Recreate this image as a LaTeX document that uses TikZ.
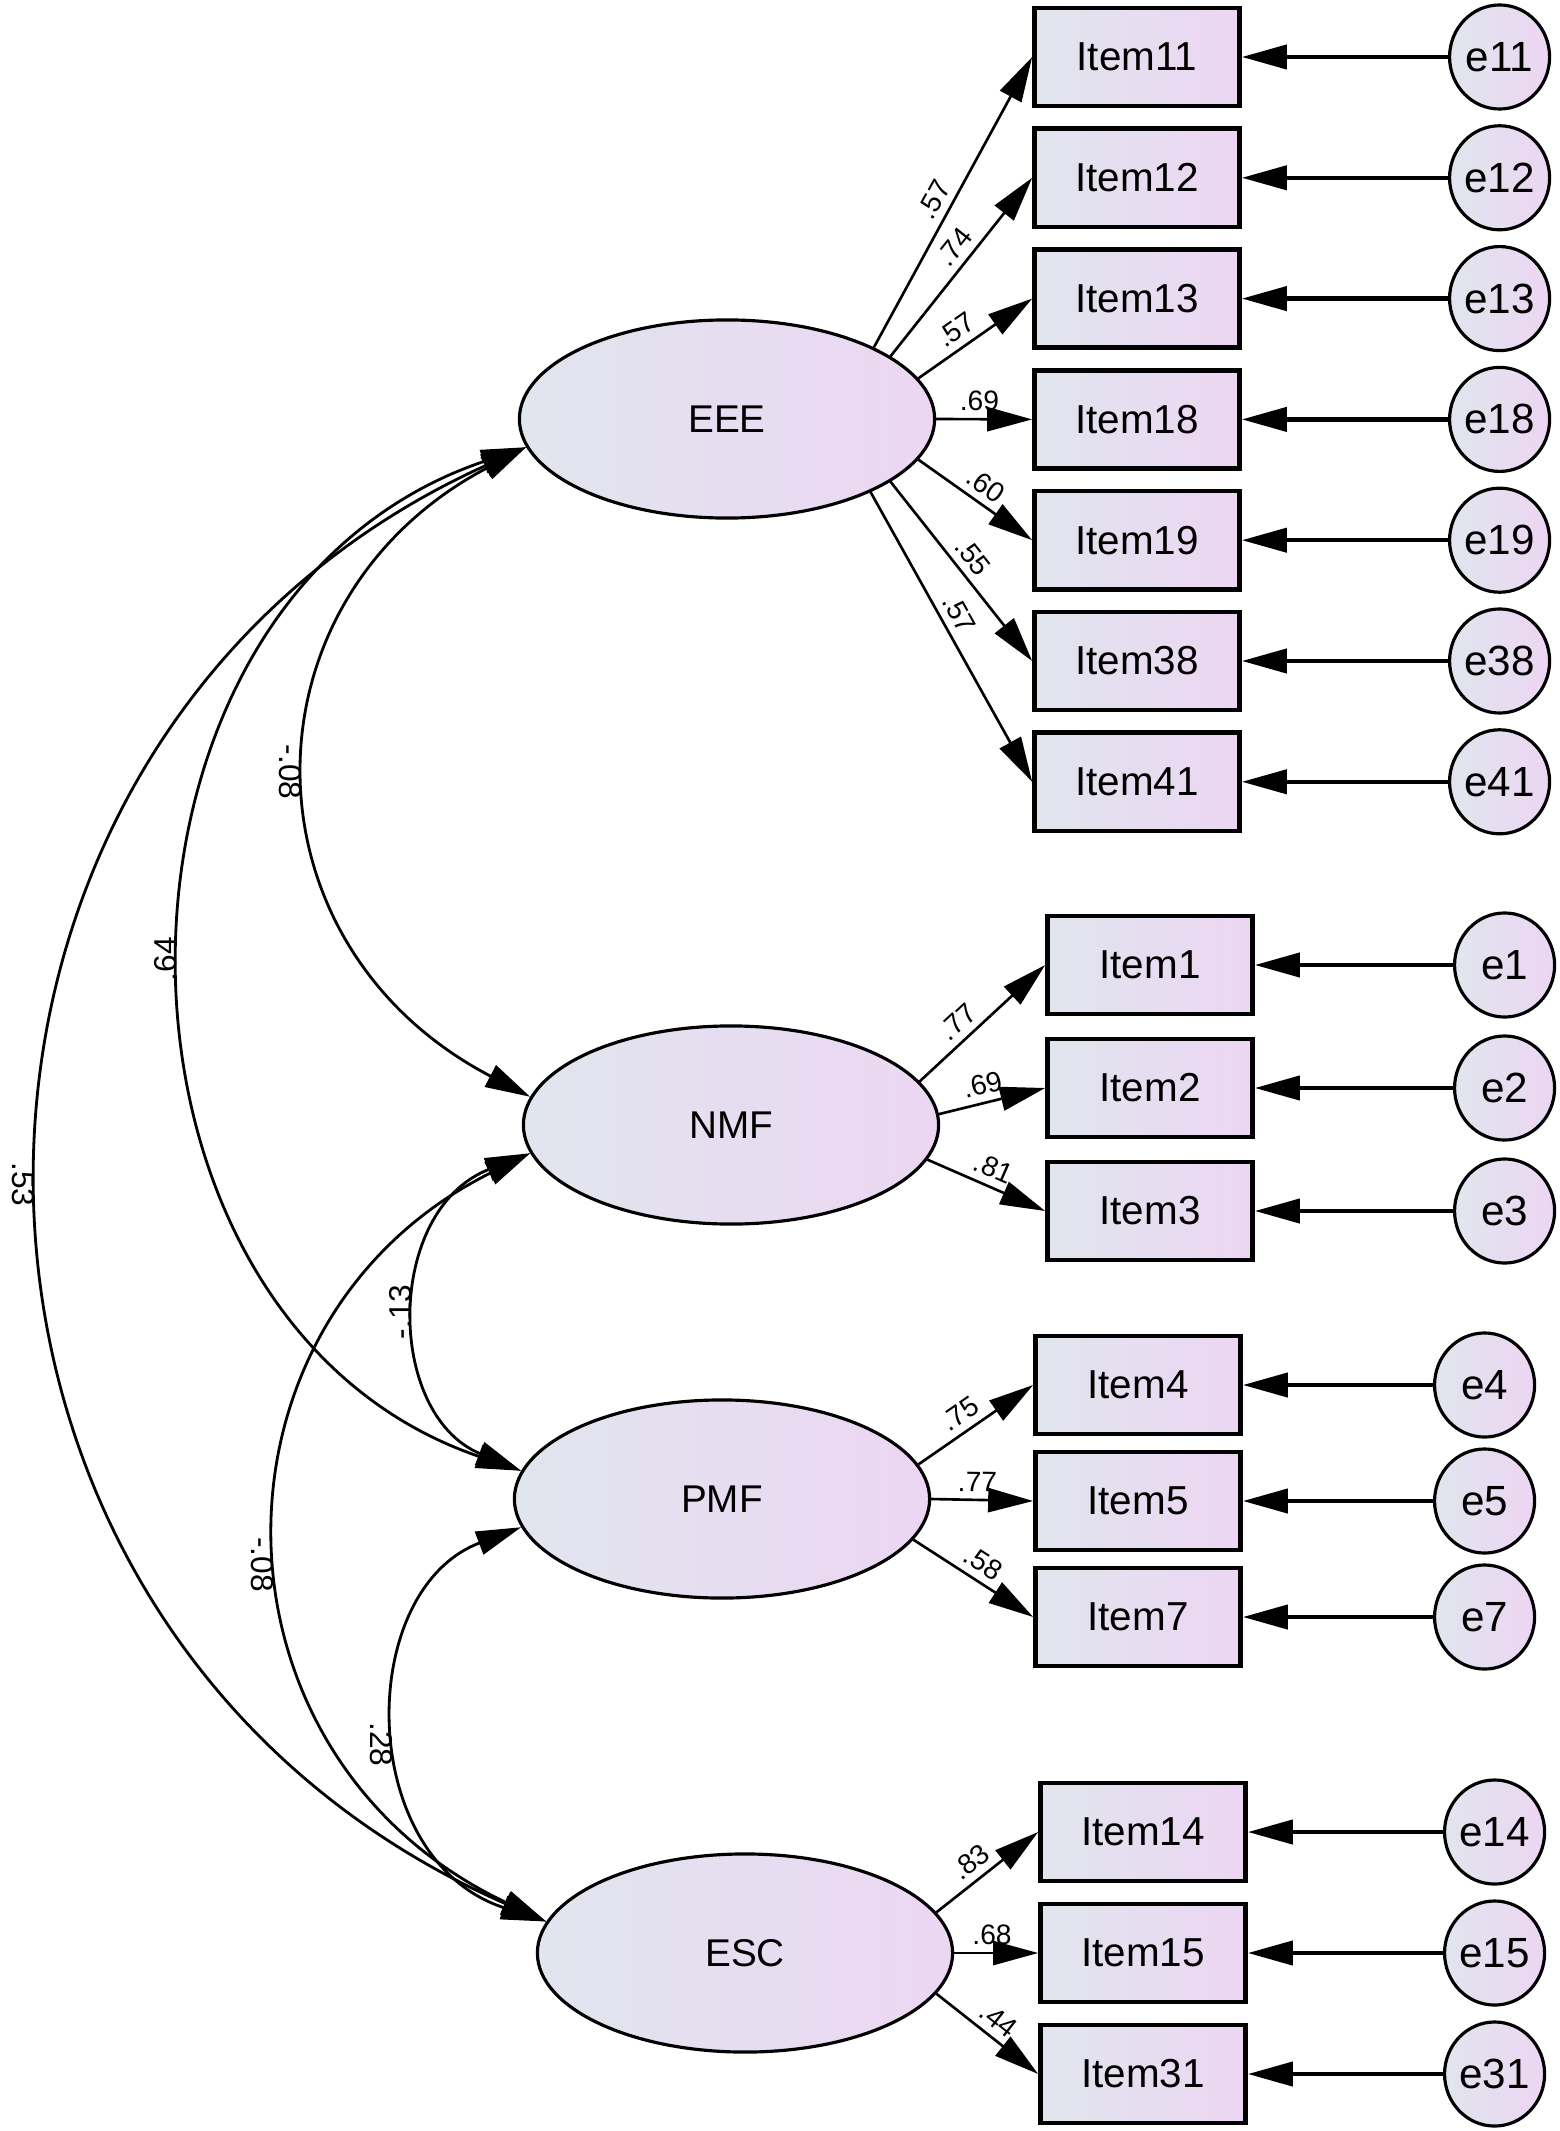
\documentclass[tikz,border=0pt]{standalone}
\usepackage{fontspec}
\setmainfont{Liberation Sans}
\usetikzlibrary{%
    arrows.meta,
    positioning,
    shapes.geometric
}
\definecolor{amosl}{RGB}{225,229,238}
\definecolor{amosr}{RGB}{236,214,242}
\tikzset{headarrow/.style = {-{Triangle[length=4.5mm,width=2.4mm]}}}
\tikzset{covarrow/.style = {{Triangle[length=4.5mm,width=2.4mm]}-{Triangle[length=4.5mm,width=2.4mm]}, line width=.8pt}}
\tikzset{
    latent/.style = {ellipse, draw, line width=.9pt, left color=amosl, right color=amosr,
        minimum width=4.15cm, minimum height=1.98cm, inner sep=0pt, font=\fontsize{11}{13}\selectfont},
    item/.style = {rectangle, draw, line width=1.3pt, left color=amosl, right color=amosr,
        minimum width=2.05cm, minimum height=.98cm, inner sep=0pt, font=\fontsize{11.5}{13}\selectfont},
    err/.style = {ellipse, draw, line width=.9pt, left color=amosl, right color=amosr,
        minimum width=1cm, minimum height=1.04cm, inner sep=0pt, font=\fontsize{12}{14}\selectfont},
    loading/.style = {headarrow, line width=.75pt},
    residual/.style = {headarrow, line width=1.2pt},
    coef/.style = {sloped, above, inner sep=2pt, font=\fontsize{8}{9}\selectfont},
    corr/.style = {inner sep=2pt, font=\fontsize{9}{10}\selectfont}
}

\begin{document}
\begin{tikzpicture}[x=0.01cm, y=-0.01cm]
    \useasboundingbox (0,0) rectangle (1559,2131);

    % factors
    \node[latent] (EEE) at (727,419)  {EEE};
    \node[latent] (NMF) at (731,1125) {NMF};
    \node[latent] (PMF) at (722,1499) {PMF};
    \node[latent] (ESC) at (745,1953) {ESC};

    % items and errors
    \foreach \n [count=\k from 0] in {11,12,13,18,19,38,41} {
        \node[item] (i\n) at (1137, 57+120.8*\k) {Item\n};
        \node[err]  (e\n) [right=2.06cm of i\n] {e\n};
    }
    \foreach \n [count=\k from 0] in {1,2,3} {
        \node[item] (i\n) at (1150, 965+123*\k) {Item\n};
        \node[err]  (e\n) [right=1.98cm of i\n] {e\n};
    }
    \foreach \n [count=\k from 0] in {4,5,7} {
        \node[item] (i\n) at (1138, 1385+116*\k) {Item\n};
        \node[err]  (e\n) [right=1.9cm of i\n] {e\n};
    }
    \foreach \n [count=\k from 0] in {14,15,31} {
        \node[item] (i\n) at (1143, 1832+121*\k) {Item\n};
        \node[err]  (e\n) [right=1.95cm of i\n] {e\n};
    }

    % loadings
    \foreach \n/\a/\v/\p in {11/26/.57/.48, 12/21/.74/.55, 13/12/.57/.42, 18/0/.69/.45,
                             19/348/.60/.5, 38/339/.55/.48, 41/333/.57/.45}
        \draw[loading] (EEE.\a) -- node[coef, pos=\p] {\v} (i\n.west);
    \foreach \n/\a/\v/\p in {1/13/.77/.4, 2/3/.69/.45, 3/350/.81/.5}
        \draw[loading] (NMF.\a) -- node[coef, pos=\p] {\v} (i\n.west);
    \foreach \n/\a/\v/\p in {4/10/.75/.45, 5/0/.77/.45, 7/348/.58/.5}
        \draw[loading] (PMF.\a) -- node[coef, pos=\p] {\v} (i\n.west);
    \foreach \n/\a/\v/\p in {14/12/.83/.45, 15/0/.68/.45, 31/348/.44/.5}
        \draw[loading] (ESC.\a) -- node[coef, pos=\p] {\v} (i\n.west);

    % residuals
    \foreach \n in {11,12,13,18,19,38,41,1,2,3,4,5,7,14,15,31}
        \draw[residual] (e\n) -- (i\n);

    % covariances
    \draw[covarrow] (EEE.188) .. controls (237,600) and (237,944) ..
        node[corr, rotate=-90, anchor=north] {-.08} (NMF.172);
    \draw[covarrow] (EEE.188) .. controls (73,600) and (73,1318) ..
        node[corr, rotate=90, anchor=south] {.64} (PMF.172);
    \draw[covarrow] (EEE.188) .. controls (-121,740) and (-121,1629) ..
        node[corr, rotate=-90, anchor=north] {.53} (ESC.171);
    \draw[covarrow] (NMF.188) .. controls (385,1210) and (385,1414) ..
        node[corr, rotate=90, anchor=south] {-.13} (PMF.172);
    \draw[covarrow] (NMF.188) .. controls (195,1320) and (195,1755) ..
        node[corr, rotate=-90, anchor=north, pos=.53] {-.08} (ESC.171);
    \draw[covarrow] (PMF.188) .. controls (355,1590) and (355,1859) ..
        node[corr, rotate=-90, anchor=north, pos=.54] {.28} (ESC.171);
\end{tikzpicture}
\end{document}
